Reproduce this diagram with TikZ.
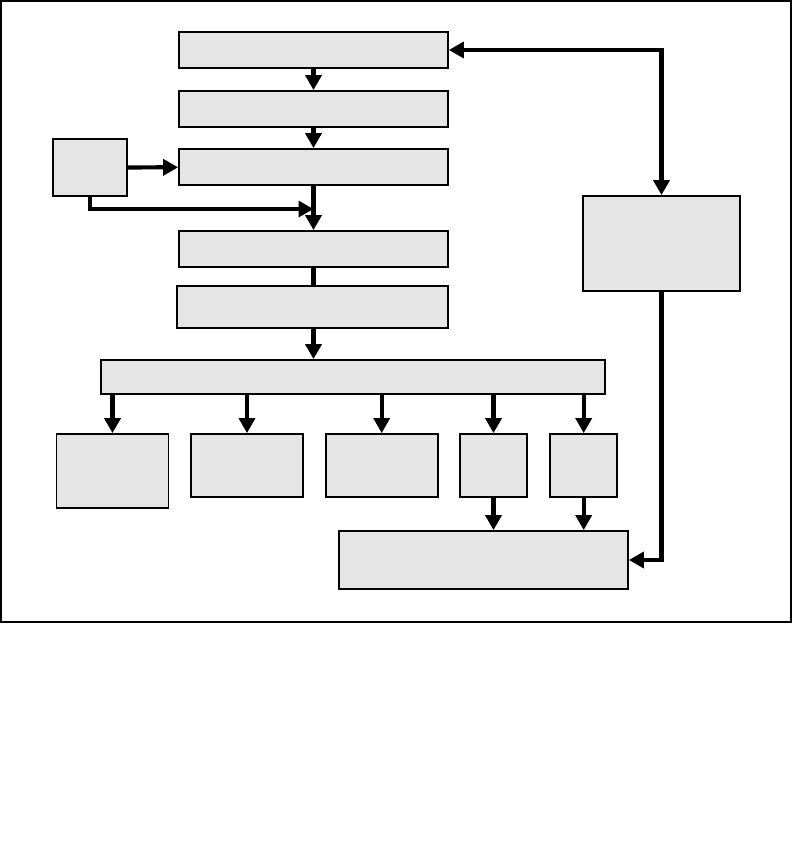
\documentclass[tikz,border=0pt]{standalone}
\usepackage{xcolor}
\usepackage{tikz}
\usetikzlibrary{arrows.meta, positioning}
\definecolor{boxgray}{HTML}{E5E5E5}

\begin{document}
\begin{tikzpicture}[
  x=0.02cm, y=-0.02cm,
  box/.style={rectangle, draw=black, fill=boxgray, line width=1pt,
              inner sep=0pt},
  arr/.style={-{Triangle[length=8.5pt, width=9pt]}, line width=2.4pt},
  link/.style={line width=2.4pt},
]
  \useasboundingbox (0,0) rectangle (793,860);
  \draw[line width=0.9pt] (1,1) rectangle (791,622);
  % Main stack
  \node[box, minimum width=5.38cm, minimum height=0.72cm] (inp) at (313.5,50) {};
  \node[box, minimum width=5.38cm, minimum height=0.72cm] (fil) at (313.5,109) {};
  \node[box, minimum width=5.38cm, minimum height=0.72cm] (mix) at (313.5,167) {};
  \node[box, minimum width=5.38cm, minimum height=0.72cm] (amp) at (313.5,249) {};
  \node[box, minimum width=5.42cm, minimum height=0.84cm] (dec) at (312.5,307) {};
  \node[box, minimum width=10.08cm, minimum height=0.68cm] (bus) at (353,377) {};
  % Side boxes
  \node[box, minimum width=1.48cm, minimum height=1.14cm] (osc) at (90,167.5) {};
  \node[box, minimum width=3.14cm, minimum height=1.90cm] (ctl) at (661.5,243.5) {};
  % Outputs
  \node[box, minimum width=2.24cm, minimum height=1.48cm] (outa) at (112.5,471) {};
  \node[box, minimum width=2.24cm, minimum height=1.26cm] (outb) at (247,465.5) {};
  \node[box, minimum width=2.24cm, minimum height=1.26cm] (outc) at (381.7,465.5) {};
  \node[box, minimum width=1.34cm, minimum height=1.26cm] (outd) at (493.5,465.5) {};
  \node[box, minimum width=1.34cm, minimum height=1.26cm] (oute) at (583.7,465.5) {};
  \node[box, minimum width=5.78cm, minimum height=1.16cm] (sink) at (483.5,560) {};
  \coordinate (join) at (313.5,209);

  % Arrows
  \draw[arr] (inp) -- (fil);
  \draw[arr] (fil) -- (mix);
  \draw[arr] (osc) -- (mix);
  \draw[arr] (osc.south) |- (join);
  \draw[arr] (mix) -- (amp);
  \draw[link] (amp) -- (amp |- dec.north);
  \draw[arr] (amp |- dec.south) -- (amp |- bus.north);
  \foreach \o in {outa, outb, outc, outd, oute}
    \draw[arr] (bus.south -| \o.north) -- (\o.north);
  \draw[arr] (outd.south) -- (sink.north -| outd.south);
  \draw[arr] (oute.south) -- (sink.north -| oute.south);
  \draw[{Triangle[length=8.5pt, width=9pt]}-{Triangle[length=8.5pt, width=9pt]},
        line width=2.4pt] (inp.east) -| (ctl.north);
  \draw[arr] (ctl.south) |- (sink.east);
\end{tikzpicture}
\end{document}
